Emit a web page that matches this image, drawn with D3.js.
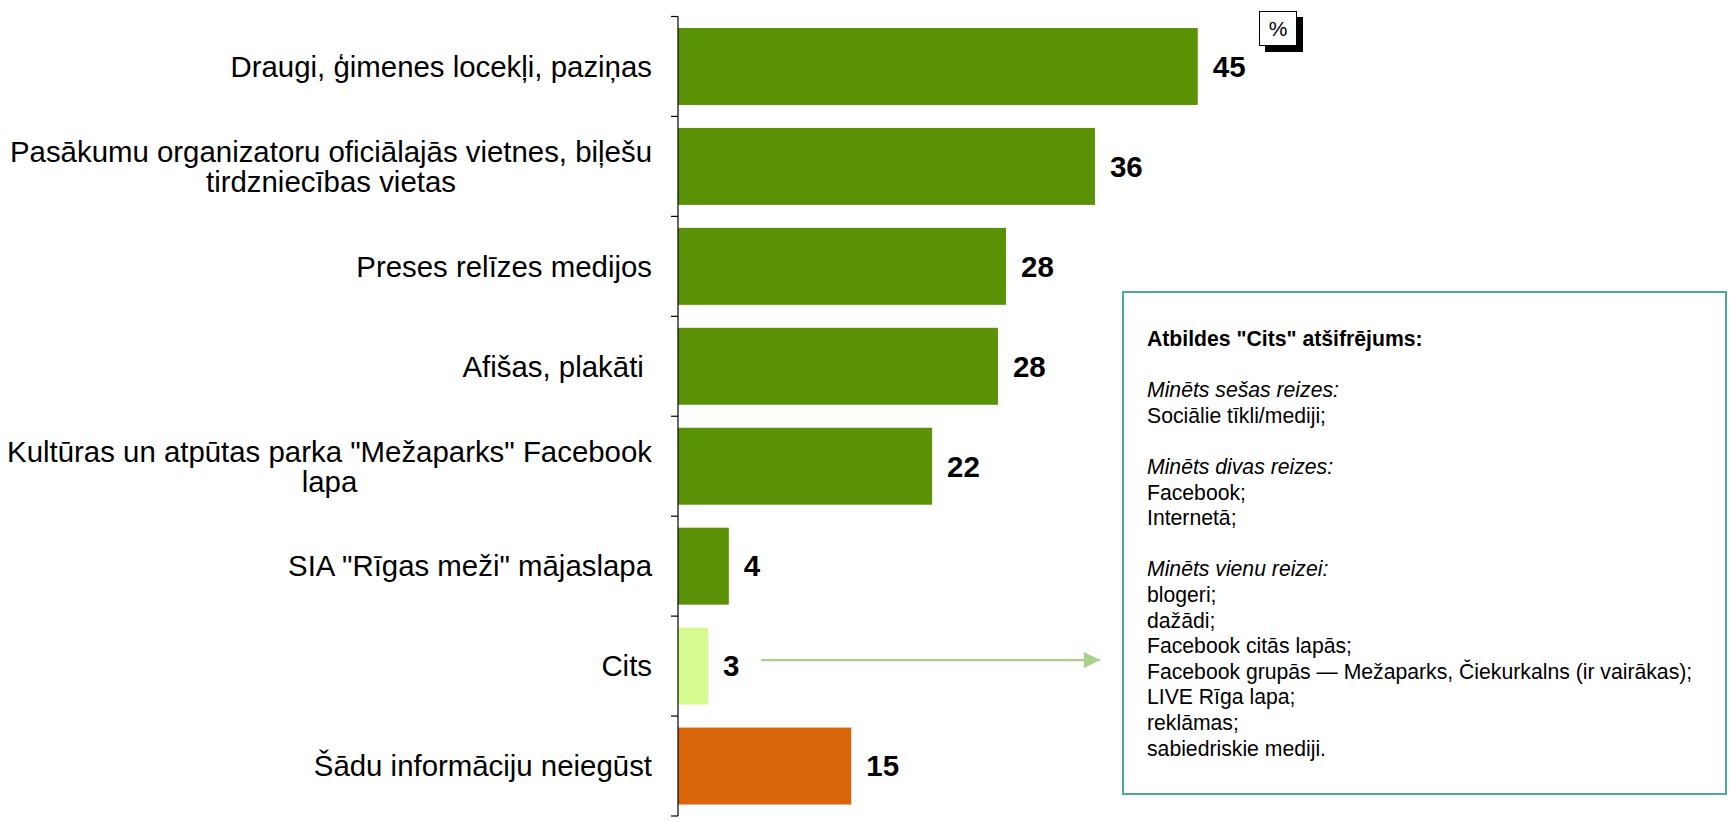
<!DOCTYPE html>
<html>
<head>
<meta charset="utf-8">
<script src="https://cdn.jsdelivr.net/npm/d3@7"></script>
<style>
  html, body { margin: 0; padding: 0; background: #fff; }
  svg { display: block; font-family: "Liberation Sans", Arial, sans-serif; }
</style>
</head>
<body>
<svg id="chart" width="1729" height="822"></svg>
<script>
const categories = [
  "Draugi, ģimenes locekļi, paziņas",
  "Pasākumu organizatoru oficiālajās vietnes, biļešu\ntirdzniecības vietas",
  "Preses relīzes medijos",
  "Afišas, plakāti ",
  "Kultūras un atpūtas parka \"Mežaparks\" Facebook\nlapa",
  "SIA \"Rīgas meži\" mājaslapa",
  "Cits",
  "Šādu informāciju neiegūst"
];
const values = [45.0, 36.1, 28.4, 27.7, 22.0, 4.4, 2.6, 15.0];
const valueLabels = ["45", "36", "28", "28", "22", "4", "3", "15"];
const barKinds = ["main", "main", "main", "main", "main", "main", "other", "none"];
const colors = { main: "#5b9104", other: "#d5fb8f", none: "#d8650a" };
const unitLabel = "%";
const noteTitle = "Atbildes \"Cits\" atšifrējums:";
const noteLines = [
  { t: noteTitle, s: "bold" },
  { t: "", s: "normal" },
  { t: "Minēts sešas reizes:", s: "italic" },
  { t: "Sociālie tīkli/mediji;", s: "normal" },
  { t: "", s: "normal" },
  { t: "Minēts divas reizes:", s: "italic" },
  { t: "Facebook;", s: "normal" },
  { t: "Internetā;", s: "normal" },
  { t: "", s: "normal" },
  { t: "Minēts vienu reizei:", s: "italic" },
  { t: "blogeri;", s: "normal" },
  { t: "dažādi;", s: "normal" },
  { t: "Facebook citās lapās;", s: "normal" },
  { t: "Facebook grupās — Mežaparks, Čiekurkalns (ir vairākas);", s: "normal" },
  { t: "LIVE Rīga lapa;", s: "normal" },
  { t: "reklāmas;", s: "normal" },
  { t: "sabiedriskie mediji.", s: "normal" }
];

const svg = d3.select("#chart");

const x = d3.scaleLinear().domain([0, 50]).range([678, 1255.5]);
const y = d3.scaleBand().domain(categories).range([16.5, 816])
  .paddingInner(0.23).paddingOuter(0.115);
const step = y.step();
const bandStart = i => 16.5 + i * step;

// Bars
svg.append("g").selectAll("rect")
  .data(values)
  .join("rect")
  .attr("x", x(0))
  .attr("y", (d, i) => y(categories[i]))
  .attr("width", d => x(d) - x(0))
  .attr("height", y.bandwidth())
  .attr("fill", (d, i) => colors[barKinds[i]]);

// Axis line with ticks at band boundaries
const axisG = svg.append("g");
axisG.append("line")
  .attr("x1", x(0)).attr("x2", x(0))
  .attr("y1", 16.5).attr("y2", 816)
  .attr("stroke", "#000").attr("stroke-width", 1.2);
axisG.selectAll("line.tick")
  .data(d3.range(categories.length + 1))
  .join("line")
  .attr("class", "tick")
  .attr("x1", x(0) - 7).attr("x2", x(0))
  .attr("y1", i => bandStart(i)).attr("y2", i => bandStart(i))
  .attr("stroke", "#000").attr("stroke-width", 1.2);

// Category labels (right aligned block, centred lines)
const labelRight = 652;
const catFont = 29.4;
const lineH = 30;
categories.forEach((c, i) => {
  const lines = c.split("\n");
  const cy = y(c) + y.bandwidth() / 2;
  const g = svg.append("g");
  const texts = lines.map((ln, j) => g.append("text")
    .attr("font-size", catFont)
    .attr("fill", "#000")
    .style("white-space", "pre")
    .attr("y", cy + (j - (lines.length - 1) / 2) * lineH)
    .attr("dy", "0.35em")
    .text(ln));
  if (lines.length === 1) {
    texts[0].attr("x", labelRight).attr("text-anchor", "end");
  } else {
    const w = d3.max(texts, t => t.node().getComputedTextLength());
    texts.forEach(t => t.attr("x", labelRight - w / 2).attr("text-anchor", "middle"));
  }
});

// Value labels
svg.append("g").selectAll("text")
  .data(values)
  .join("text")
  .attr("x", d => x(d) + 15)
  .attr("y", (d, i) => y(categories[i]) + y.bandwidth() / 2)
  .attr("dy", "0.35em")
  .attr("font-size", 29.5)
  .attr("font-weight", "bold")
  .attr("fill", "#000")
  .text((d, i) => valueLabels[i]);

// Percent box with shadow
const pg = svg.append("g");
pg.append("rect").attr("x", 1265).attr("y", 17).attr("width", 38).attr("height", 35).attr("fill", "#000");
pg.append("rect").attr("x", 1259.5).attr("y", 11.5).attr("width", 37).attr("height", 34)
  .attr("fill", "#fff").attr("stroke", "#000").attr("stroke-width", 1);
pg.append("text").attr("x", 1278).attr("y", 28.5).attr("dy", "0.35em")
  .attr("text-anchor", "middle").attr("font-size", 21).text(unitLabel);

// Note box
svg.append("rect")
  .attr("x", 1123).attr("y", 292).attr("width", 603).attr("height", 502)
  .attr("fill", "#fff").attr("stroke", "#4fa99b").attr("stroke-width", 2);
svg.append("g").selectAll("text")
  .data(noteLines)
  .join("text")
  .attr("x", 1147)
  .attr("y", (d, i) => 338.5 + i * 25.6)
  .attr("dy", "0.35em")
  .attr("font-size", 21.2)
  .attr("font-weight", d => d.s === "bold" ? "bold" : "normal")
  .attr("font-style", d => d.s === "italic" ? "italic" : "normal")
  .attr("fill", "#000")
  .text(d => d.t);

// Arrow from "Cits" to note box
const citsIdx = categories.indexOf("Cits");
const ay = y(categories[citsIdx]) + y.bandwidth() / 2 - 6;
const defs = svg.append("defs");
defs.append("marker").attr("id", "arrow")
  .attr("viewBox", "0 0 10 10").attr("refX", 10).attr("refY", 5)
  .attr("markerUnits", "userSpaceOnUse")
  .attr("markerWidth", 16).attr("markerHeight", 16).attr("orient", "auto")
  .append("path").attr("d", "M0,0 L10,5 L0,10 Z").attr("fill", "#a9d18e");
svg.append("line")
  .attr("x1", 761).attr("x2", 1100)
  .attr("y1", ay).attr("y2", ay)
  .attr("stroke", "#a9d18e").attr("stroke-width", 2.2)
  .attr("marker-end", "url(#arrow)");
</script>
</body>
</html>
